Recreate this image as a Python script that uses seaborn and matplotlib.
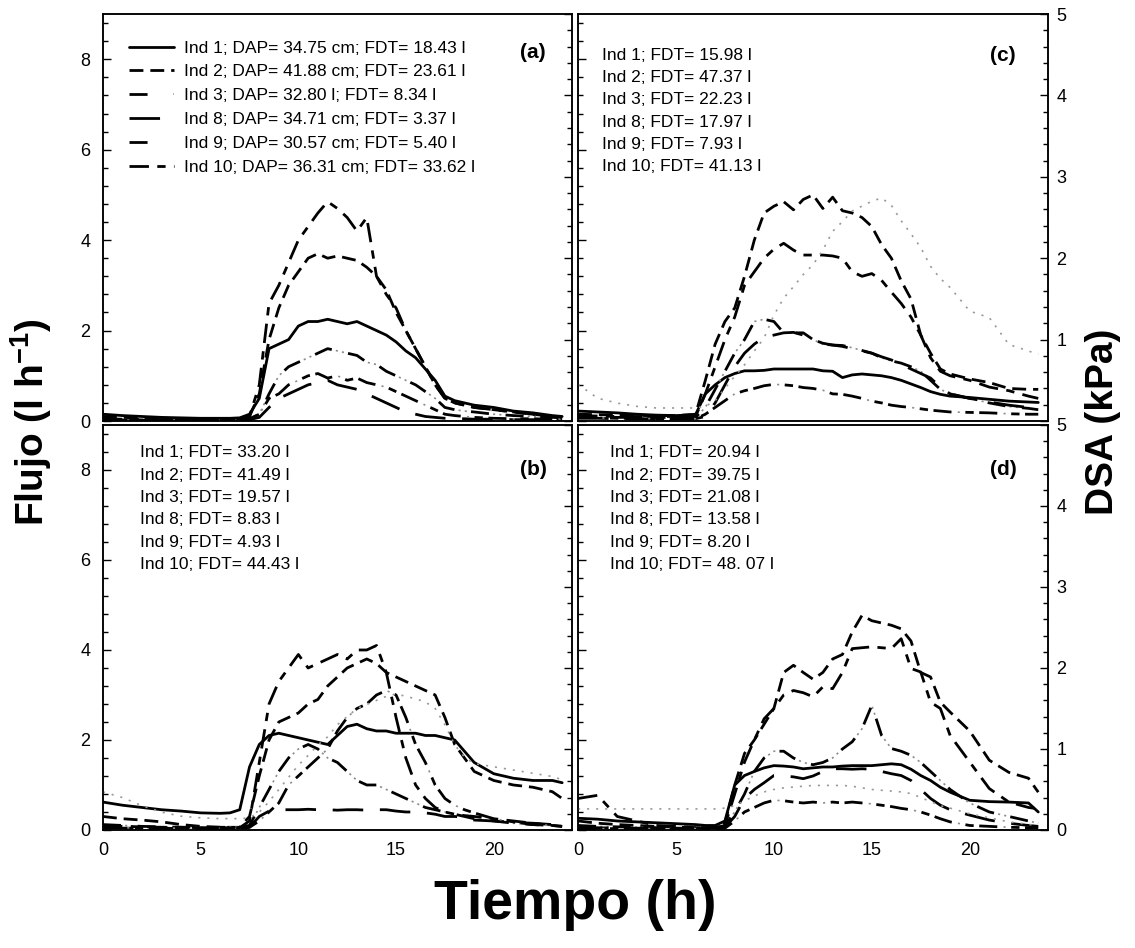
import matplotlib
matplotlib.use("Agg")
import matplotlib.pyplot as plt
import seaborn as sns
from matplotlib.lines import Line2D
from matplotlib.legend_handler import HandlerTuple
from matplotlib.ticker import MultipleLocator, FixedLocator

# time axis (h)
hours = [0, 1, 2, 3, 4, 5,
         6, 6.5, 7, 7.5, 8, 8.5, 9, 9.5,
         10, 10.5, 11, 11.5, 12, 12.5, 13, 13.5,
         14, 14.5, 15, 15.5, 16, 16.5, 17, 17.5,
         18, 18.5, 19,
         20, 21, 22, 23, 23.5]

individuals = ["Ind 1", "Ind 2", "Ind 3", "Ind 8", "Ind 9", "Ind 10"]

# ---- panel (a) flujo (l h-1)
flux_a_1 = [0.15, 0.12, 0.10, 0.08, 0.07, 0.06,
            0.06, 0.06, 0.07, 0.15, 0.50, 1.60, 1.70, 1.80,
            2.10, 2.20, 2.20, 2.25, 2.20, 2.15, 2.20, 2.10,
            2.00, 1.90, 1.75, 1.55, 1.40, 1.15, 0.90, 0.55,
            0.45, 0.40, 0.35,
            0.30, 0.22, 0.18, 0.12, 0.10]
flux_a_2 = [0.10, 0.08, 0.06, 0.05, 0.05, 0.04,
            0.04, 0.04, 0.05, 0.10, 0.60, 1.80, 2.50, 3.00,
            3.30, 3.60, 3.70, 3.60, 3.65, 3.60, 3.55, 3.40,
            3.20, 2.90, 2.40, 2.00, 1.60, 1.20, 0.80, 0.50,
            0.40, 0.35, 0.30,
            0.25, 0.20, 0.15, 0.10, 0.08]
flux_a_3 = [0.03, 0.03, 0.02, 0.02, 0.02, 0.02,
            0.02, 0.02, 0.03, 0.05, 0.15, 0.60, 1.00, 1.20,
            1.30, 1.40, 1.50, 1.60, 1.55, 1.50, 1.45, 1.30,
            1.25, 1.10, 1.00, 0.90, 0.80, 0.65, 0.50, 0.30,
            0.25, 0.22, 0.20,
            0.15, 0.12, 0.10, 0.08, 0.07]
flux_a_8 = [0.02, 0.02, 0.02, 0.02, 0.02, 0.02,
            0.02, 0.02, 0.02, 0.03, 0.08, 0.30, 0.50, 0.60,
            0.70, 0.80, 0.85, 0.90, 0.80, 0.75, 0.70, 0.60,
            0.50, 0.40, 0.30, 0.20, 0.15, 0.10, 0.08, 0.06,
            0.05, 0.05, 0.04,
            0.04, 0.03, 0.03, 0.03, 0.03]
flux_a_9 = [0.02, 0.02, 0.02, 0.02, 0.02, 0.02,
            0.02, 0.02, 0.02, 0.04, 0.15, 0.50, 0.60, 0.80,
            0.90, 1.00, 1.05, 0.95, 1.00, 0.90, 0.95, 0.85,
            0.80, 0.75, 0.65, 0.55, 0.45, 0.35, 0.25, 0.15,
            0.12, 0.10, 0.08,
            0.06, 0.05, 0.05, 0.04, 0.04]
flux_a_10 = [0.05, 0.04, 0.03, 0.03, 0.03, 0.03,
             0.03, 0.03, 0.04, 0.10, 0.80, 2.60, 3.00, 3.50,
             4.00, 4.30, 4.60, 4.85, 4.70, 4.50, 4.20, 4.50,
             3.20, 2.80, 2.50, 2.00, 1.60, 1.20, 0.80, 0.50,
             0.40, 0.35, 0.30,
             0.25, 0.20, 0.15, 0.10, 0.08]

# ---- panel (b)
flux_b_1 = [0.62, 0.55, 0.50, 0.45, 0.42, 0.38,
            0.37, 0.38, 0.45, 1.40, 1.90, 2.10, 2.15, 2.10,
            2.05, 2.00, 1.95, 1.90, 2.10, 2.30, 2.35, 2.25,
            2.20, 2.20, 2.15, 2.15, 2.15, 2.10, 2.10, 2.05,
            2.00, 1.75, 1.50,
            1.25, 1.15, 1.10, 1.10, 1.05]
flux_b_2 = [0.30, 0.25, 0.22, 0.18, 0.12, 0.08,
            0.06, 0.06, 0.06, 0.30, 1.20, 2.00, 2.40, 2.50,
            2.60, 2.80, 2.90, 3.20, 3.40, 3.60, 3.70, 3.80,
            3.70, 3.50, 3.40, 3.30, 3.20, 3.10, 3.00, 2.50,
            1.90, 1.60, 1.30,
            1.10, 1.00, 0.95, 0.85, 0.70]
flux_b_3 = [0.12, 0.10, 0.08, 0.07, 0.06, 0.06,
            0.06, 0.06, 0.07, 0.10, 0.50, 0.90, 1.30, 1.60,
            1.80, 1.90, 1.80, 1.60, 1.50, 1.30, 1.10, 1.00,
            1.00, 0.90, 0.80, 0.70, 0.60, 0.50, 0.45, 0.40,
            0.35, 0.30, 0.25,
            0.20, 0.15, 0.12, 0.10, 0.08]
flux_b_8 = [0.05, 0.04, 0.04, 0.04, 0.03, 0.03,
            0.03, 0.03, 0.04, 0.06, 0.30, 0.42, 0.45, 0.45,
            0.45, 0.46, 0.45, 0.45, 0.44, 0.45, 0.45, 0.44,
            0.45, 0.45, 0.42, 0.40, 0.40, 0.38, 0.35, 0.30,
            0.30, 0.28, 0.22,
            0.20, 0.17, 0.15, 0.12, 0.10]
flux_b_9 = [0.05, 0.05, 0.04, 0.04, 0.04, 0.04,
            0.04, 0.04, 0.04, 0.06, 0.20, 0.40, 0.60, 1.00,
            1.20, 1.40, 1.60, 1.80, 2.20, 2.50, 2.70, 2.80,
            3.00, 3.10, 3.00, 2.50, 1.90, 1.50, 1.00, 0.70,
            0.55, 0.45, 0.38,
            0.25, 0.18, 0.12, 0.10, 0.08]
flux_b_10 = [0.10, 0.08, 0.07, 0.06, 0.06, 0.05,
             0.05, 0.05, 0.05, 0.20, 1.50, 2.80, 3.30, 3.60,
             3.90, 3.60, 3.70, 3.80, 3.90, 3.80, 4.00, 4.00,
             4.10, 3.50, 2.50, 1.60, 1.00, 0.70, 0.50, 0.40,
             0.35, 0.32, 0.30,
             0.25, 0.20, 0.15, 0.10, 0.08]
dsa_b = [0.47, 0.40, 0.30, 0.22, 0.17, 0.15,
         0.14, 0.14, 0.14, 0.15, 0.22, 0.35, 0.50, 0.65,
         0.80, 0.92, 1.05, 1.15, 1.30, 1.40, 1.50, 1.55,
         1.60, 1.65, 1.68, 1.65, 1.62, 1.58, 1.50, 1.30,
         1.05, 0.90, 0.82,
         0.78, 0.74, 0.70, 0.66, 0.62]

# ---- panel (c)
flux_c_1 = [0.22, 0.20, 0.18, 0.15, 0.13, 0.12,
            0.14, 0.60, 0.80, 0.96, 1.05, 1.11, 1.11, 1.12,
            1.15, 1.15, 1.15, 1.15, 1.15, 1.11, 1.10, 0.96,
            1.02, 1.04, 1.02, 1.00, 0.96, 0.90, 0.82, 0.74,
            0.65, 0.59, 0.55,
            0.52, 0.48, 0.44, 0.42, 0.41]
flux_c_2 = [0.15, 0.14, 0.13, 0.12, 0.12, 0.12,
            0.15, 0.90, 1.70, 2.20, 2.50, 3.20, 4.00, 4.60,
            4.75, 4.85, 4.67, 4.90, 5.00, 4.70, 4.95, 4.65,
            4.60, 4.50, 4.30, 3.90, 3.60, 3.10, 2.70, 1.90,
            1.50, 1.15, 1.04,
            0.93, 0.85, 0.72, 0.70, 0.70]
flux_c_3 = [0.10, 0.09, 0.08, 0.08, 0.08, 0.08,
            0.08, 0.30, 0.70, 1.10, 1.50, 1.80, 2.20, 2.25,
            2.20, 1.95, 1.95, 1.95, 1.80, 1.70, 1.68, 1.67,
            1.62, 1.56, 1.50, 1.40, 1.33, 1.28, 1.20, 1.10,
            0.90, 0.70, 0.60,
            0.50, 0.40, 0.32, 0.28, 0.25]
flux_c_8 = [0.06, 0.06, 0.05, 0.05, 0.05, 0.05,
            0.05, 0.10, 0.40, 0.80, 1.20, 1.50, 1.70, 1.85,
            1.90, 1.95, 1.96, 1.90, 1.80, 1.72, 1.68, 1.65,
            1.60, 1.55, 1.50, 1.42, 1.35, 1.25, 1.15, 1.05,
            0.95, 0.75, 0.60,
            0.50, 0.42, 0.35, 0.30, 0.28]
flux_c_9 = [0.08, 0.07, 0.06, 0.06, 0.05, 0.05,
            0.05, 0.15, 0.30, 0.45, 0.60, 0.67, 0.72, 0.78,
            0.81, 0.80, 0.78, 0.74, 0.72, 0.68, 0.60, 0.59,
            0.55, 0.50, 0.44, 0.40, 0.35, 0.32, 0.30, 0.27,
            0.24, 0.22, 0.20,
            0.19, 0.18, 0.16, 0.15, 0.15]
flux_c_10 = [0.12, 0.11, 0.10, 0.10, 0.10, 0.10,
             0.10, 0.60, 1.20, 1.80, 2.30, 3.00, 3.30, 3.60,
             3.80, 3.93, 3.78, 3.67, 3.67, 3.67, 3.65, 3.60,
             3.30, 3.20, 3.26, 3.11, 2.85, 2.60, 2.30, 1.90,
             1.40, 1.10, 1.00,
             0.90, 0.75, 0.67, 0.55, 0.50]
dsa_c = [0.45, 0.28, 0.22, 0.18, 0.16, 0.16,
         0.16, 0.18, 0.25, 0.40, 0.55, 0.69, 0.86, 1.02,
         1.30, 1.51, 1.65, 1.80, 1.92, 2.10, 2.33, 2.45,
         2.58, 2.64, 2.70, 2.74, 2.65, 2.46, 2.30, 2.13,
         1.90, 1.75, 1.64,
         1.35, 1.27, 0.94, 0.86, 0.82]

# ---- panel (d)
flux_d_1 = [0.26, 0.24, 0.20, 0.18, 0.16, 0.14,
            0.12, 0.10, 0.10, 0.20, 1.00, 1.21, 1.30, 1.38,
            1.43, 1.42, 1.40, 1.36, 1.38, 1.40, 1.40, 1.42,
            1.43, 1.43, 1.43, 1.45, 1.47, 1.45, 1.35, 1.21,
            1.10, 0.95, 0.84,
            0.66, 0.63, 0.62, 0.60, 0.40]
flux_d_2 = [0.20, 0.15, 0.12, 0.10, 0.08, 0.06,
            0.05, 0.05, 0.06, 0.15, 1.00, 1.70, 2.00, 2.35,
            2.70, 3.50, 3.66, 3.50, 3.35, 3.50, 3.80, 3.90,
            4.40, 4.77, 4.65, 4.60, 4.55, 4.47, 4.20, 3.50,
            3.40, 2.84, 2.62,
            2.20, 1.55, 1.28, 1.15, 0.84]
flux_d_3 = [0.10, 0.08, 0.07, 0.06, 0.05, 0.05,
            0.05, 0.05, 0.05, 0.10, 0.40, 0.80, 1.30, 1.60,
            1.75, 1.75, 1.60, 1.50, 1.45, 1.50, 1.60, 1.80,
            1.96, 2.25, 2.77, 2.10, 1.81, 1.75, 1.66, 1.50,
            1.30, 1.10, 0.90,
            0.60, 0.40, 0.30, 0.20, 0.15]
flux_d_8 = [0.05, 0.05, 0.04, 0.04, 0.04, 0.04,
            0.04, 0.04, 0.04, 0.06, 0.30, 0.70, 0.90, 1.05,
            1.21, 1.20, 1.18, 1.14, 1.20, 1.30, 1.36, 1.36,
            1.35, 1.36, 1.35, 1.30, 1.25, 1.21, 1.10, 0.90,
            0.70, 0.55, 0.45,
            0.33, 0.22, 0.15, 0.10, 0.08]
flux_d_9 = [0.03, 0.03, 0.03, 0.03, 0.03, 0.03,
            0.03, 0.03, 0.03, 0.04, 0.20, 0.40, 0.50, 0.60,
            0.66, 0.65, 0.62, 0.60, 0.62, 0.60, 0.62, 0.60,
            0.62, 0.60, 0.58, 0.55, 0.52, 0.48, 0.45, 0.40,
            0.33, 0.25, 0.18,
            0.10, 0.08, 0.06, 0.05, 0.05]
flux_d_10 = [0.70, 0.77, 0.30, 0.20, 0.10, 0.08,
             0.06, 0.05, 0.05, 0.10, 0.80, 1.51, 2.00, 2.47,
             2.70, 3.00, 3.10, 3.05, 2.96, 3.18, 3.14, 3.50,
             4.03, 4.05, 4.07, 4.05, 4.03, 4.25, 3.59, 3.51,
             2.84, 2.70, 2.10,
             1.51, 0.92, 0.62, 0.50, 0.47]
dsa_d = [0.26, 0.26, 0.26, 0.26, 0.26, 0.26,
         0.26, 0.26, 0.26, 0.27, 0.30, 0.36, 0.42, 0.47,
         0.50, 0.52, 0.53, 0.54, 0.55, 0.55, 0.55, 0.55,
         0.54, 0.52, 0.50, 0.49, 0.48, 0.47, 0.45, 0.40,
         0.35, 0.30, 0.27,
         0.20, 0.15, 0.10, 0.07, 0.05]

legend_a = ["Ind 1; DAP= 34.75 cm; FDT= 18.43 l",
            "Ind 2; DAP= 41.88 cm; FDT= 23.61 l",
            "Ind 3; DAP= 32.80 l; FDT= 8.34 l",
            "Ind 8; DAP= 34.71 cm; FDT= 3.37 l",
            "Ind 9; DAP= 30.57 cm; FDT= 5.40 l",
            "Ind 10; DAP= 36.31 cm; FDT= 33.62 l"]
fdt_b = ["33.20", "41.49", "19.57", "8.83", "4.93", "44.43"]
fdt_c = ["15.98", "47.37", "22.23", "17.97", "7.93", "41.13"]
fdt_d = ["20.94", "39.75", "21.08", "13.58", "8.20", "48. 07"]

sns.set_theme(style="white")
plt.rcParams["font.family"] = ["Liberation Sans", "DejaVu Sans"]
plt.rcParams["mathtext.fontset"] = "custom"
plt.rcParams["mathtext.rm"] = "Liberation Sans"
plt.rcParams["mathtext.bf"] = "Liberation Sans:bold"
plt.rcParams["lines.scale_dashes"] = False
plt.rcParams["text.color"] = "black"
plt.rcParams["axes.labelcolor"] = "black"

# line layers per individual: (colour, width, linestyle)
line_styles = {
    "Ind 1": [("black", 2.0, "-")],
    "Ind 2": [("black", 2.0, (0, (10, 5)))],
    "Ind 3": [("black", 2.0, (0, (13, 12))), ("0.55", 1.2, (9, (1.5, 3, 1.5, 19)))],
    "Ind 8": [("black", 2.0, (0, (22, 12)))],
    "Ind 9": [("black", 2.0, (0, (13, 10, 6, 4))), ("0.55", 1.2, (15.5, (1.5, 31.5)))],
    "Ind 10": [("black", 2.0, (0, (14, 6, 6, 6)))],
}

panels = {
    "a": [flux_a_1, flux_a_2, flux_a_3, flux_a_8, flux_a_9, flux_a_10],
    "b": [flux_b_1, flux_b_2, flux_b_3, flux_b_8, flux_b_9, flux_b_10],
    "c": [flux_c_1, flux_c_2, flux_c_3, flux_c_8, flux_c_9, flux_c_10],
    "d": [flux_d_1, flux_d_2, flux_d_3, flux_d_8, flux_d_9, flux_d_10],
}
dsa = {"a": None, "b": dsa_b, "c": dsa_c, "d": dsa_d}

boxes = {
    "a": [0.0907, 0.5559, 0.4132, 0.4293],
    "c": [0.5093, 0.5559, 0.4141, 0.4293],
    "b": [0.0907, 0.1245, 0.4132, 0.4272],
    "d": [0.5093, 0.1245, 0.4141, 0.4272],
}

fig = plt.figure(figsize=(11.35, 9.48), dpi=100)

for key, box in boxes.items():
    ax = fig.add_axes(box)
    for ind, y in zip(individuals, panels[key]):
        for color, lw, ls in line_styles[ind]:
            sns.lineplot(x=hours, y=y, ax=ax, color=color, linewidth=lw,
                         linestyle=ls, errorbar=None)
    ax.set_xlim(0, 24)
    ax.set_ylim(0, 9)
    ax.set_xlabel("")
    ax.set_ylabel("")
    ax.xaxis.set_major_locator(MultipleLocator(5))
    ax.xaxis.set_minor_locator(MultipleLocator(1))
    ax.yaxis.set_major_locator(FixedLocator([0, 2, 4, 6, 8]))
    ax.yaxis.set_minor_locator(MultipleLocator(0.4))
    left_col = key in ("a", "b")
    bottom_row = key in ("b", "d")
    ax.tick_params(which="both", direction="in", top=False, right=False,
                   labelleft=left_col, labelbottom=bottom_row,
                   labelsize=13, colors="black")
    ax.tick_params(which="major", length=6, width=1, pad=9)
    ax.tick_params(which="minor", length=3.5, width=1)
    for s in ax.spines.values():
        s.set_linewidth(1.1)
        s.set_color("black")

    ax2 = ax.twinx()
    if dsa[key] is not None:
        sns.lineplot(x=hours, y=dsa[key], ax=ax2, color="0.6", linewidth=1.2,
                     linestyle=(0, (1.5, 5)), errorbar=None)
    ax2.set_ylim(0, 5)
    ax2.set_ylabel("")
    ax2.yaxis.set_major_locator(FixedLocator([0, 1, 2, 3, 4, 5]))
    ax2.yaxis.set_minor_locator(MultipleLocator(0.2))
    ax2.tick_params(which="both", direction="in", labelright=not left_col,
                    labelsize=13, colors="black")
    ax2.tick_params(which="major", length=6, width=1, pad=6)
    ax2.tick_params(which="minor", length=3.5, width=1)
    if key == "c":
        ax2.set_yticklabels(["", "1", "2", "3", "4", "5"])
    for s in ax2.spines.values():
        s.set_linewidth(1.1)
        s.set_color("black")

    if key == "a":
        handles = []
        for ind in individuals:
            layers = [Line2D([], [], color=c, lw=lw, linestyle=ls)
                      for c, lw, ls in line_styles[ind]]
            handles.append(layers[0] if len(layers) == 1 else tuple(layers))
        ax.legend(handles, legend_a, loc="upper left",
                  bbox_to_anchor=(0.055, 0.935), frameon=False,
                  fontsize=12.5, handlelength=2.6, handletextpad=0.6,
                  labelspacing=0.5, borderaxespad=0, borderpad=0,
                  handler_map={tuple: HandlerTuple(ndivide=None)})
        ax.text(0.917, 0.905, "(a)", transform=ax.transAxes, fontsize=15,
                fontweight="bold", ha="center", va="center")
    else:
        fdt = {"b": fdt_b, "c": fdt_c, "d": fdt_d}[key]
        x0, y0 = {"b": (0.079, 0.931), "c": (0.051, 0.899), "d": (0.068, 0.931)}[key]
        step = 22.3 / (box[3] * 948)
        for i, (ind, v) in enumerate(zip(individuals, fdt)):
            ax.text(x0, y0 - i * step, f"{ind}; FDT= {v} l", transform=ax.transAxes,
                    fontsize=12.5, ha="left", va="center")
        lx, ly = {"b": (0.917, 0.89), "c": (0.904, 0.899), "d": (0.904, 0.89)}[key]
        ax.text(lx, ly, f"({key})", transform=ax.transAxes, fontsize=15,
                fontweight="bold", ha="center", va="center")

fig.text(0.027, 0.555, r"Flujo (l h$^{\mathbf{-1}}$)", rotation=90, fontsize=28,
         fontweight="bold", ha="center", va="center")
fig.text(0.972, 0.555, "DSA (kPa)", rotation=90, fontsize=28,
         fontweight="bold", ha="center", va="center")
fig.text(0.507, 0.045, "Tiempo (h)", fontsize=40, fontweight="bold",
         ha="center", va="center")

fig.savefig("out.png", dpi=100)
